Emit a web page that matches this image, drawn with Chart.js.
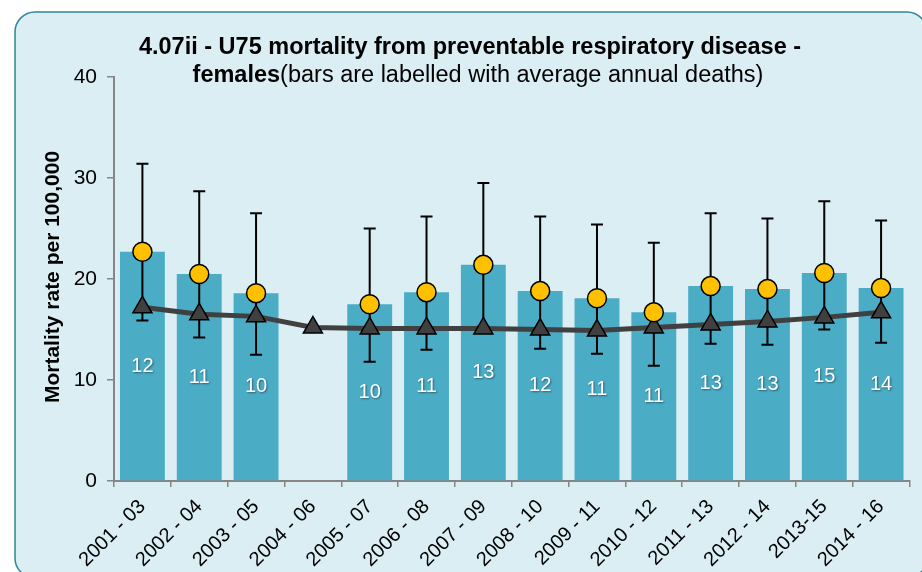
<!DOCTYPE html>
<html>
<head>
<meta charset="utf-8">
<script src="https://cdn.jsdelivr.net/npm/chart.js@4/dist/chart.umd.min.js"></script>
<style>
  html, body { margin: 0; padding: 0; background: #ffffff; }
  #wrap { width: 922px; height: 572px; position: relative; }
</style>
</head>
<body>
<div id="wrap"><canvas id="mortalityChart" width="922" height="572"></canvas></div>
<script>
// Periods along the x axis
const periods = ['2001 - 03', '2002 - 04', '2003 - 05', '2004 - 06', '2005 - 07', '2006 - 08',
    '2007 - 09', '2008 - 10', '2009 - 11', '2010 - 12', '2011 - 13', '2012 - 14', '2013-15', '2014 - 16'];

// Local U75 mortality rate per 100,000 (bars and yellow markers)
const localRate = [22.7, 20.5, 18.6, null, 17.5, 18.7, 21.4, 18.8, 18.1, 16.7, 19.3, 19.0, 20.6, 19.1];
// 95% confidence limits
const upperCI = [31.4, 28.7, 26.5, null, 25.0, 26.2, 29.5, 26.2, 25.4, 23.6, 26.5, 26.0, 27.7, 25.8];
const lowerCI = [15.9, 14.2, 12.5, null, 11.8, 13.0, 15.3, 13.1, 12.6, 11.4, 13.6, 13.5, 15.0, 13.7];
// Comparator rate (triangles)
const comparatorRate = [17.2, 16.5, 16.3, 15.2, 15.1, 15.1, 15.1, 15.0, 14.9, 15.2, 15.5, 15.8, 16.2, 16.7];
// Average annual deaths written on each bar
const annualDeaths = [12, 11, 10, null, 10, 11, 13, 12, 11, 11, 13, 13, 15, 14];

const yTicks = [0, 10, 20, 30, 40];

const FONT = '"Liberation Sans", Arial, sans-serif';
const AXIS_GREY = '#868686';

// Rounded panel behind everything
const panelPlugin = {
    id: 'panel',
    beforeDraw(chart) {
        const ctx = chart.ctx;
        ctx.save();
        ctx.fillStyle = '#ffffff';
        ctx.fillRect(0, 0, chart.width, chart.height);
        ctx.beginPath();
        ctx.roundRect(15, 12, 912, 566, 20);
        ctx.fillStyle = '#daeef3';
        ctx.fill();
        ctx.lineWidth = 1.5;
        ctx.strokeStyle = '#31859c';
        ctx.stroke();
        ctx.restore();
    }
};

// Two-line title with mixed weights, plus the rotated y axis title
const titlePlugin = {
    id: 'mixedTitle',
    afterDraw(chart) {
        const ctx = chart.ctx;
        const size = 23.5;
        ctx.save();
        ctx.fillStyle = '#000';
        ctx.textBaseline = 'middle';
        ctx.textAlign = 'center';
        ctx.font = 'bold ' + size + 'px ' + FONT;
        ctx.fillText('4.07ii - U75 mortality from preventable respiratory disease -', 470, 48);

        const boldPart = 'females';
        const plainPart = '(bars are labelled with average annual deaths)';
        ctx.font = 'bold ' + size + 'px ' + FONT;
        const wBold = ctx.measureText(boldPart).width;
        ctx.font = size + 'px ' + FONT;
        const wPlain = ctx.measureText(plainPart).width;
        const x = 478 - (wBold + wPlain) / 2;
        ctx.textAlign = 'left';
        ctx.font = 'bold ' + size + 'px ' + FONT;
        ctx.fillText(boldPart, x, 76);
        ctx.font = size + 'px ' + FONT;
        ctx.fillText(plainPart, x + wBold, 76);

        ctx.translate(53, 277);
        ctx.rotate(-Math.PI / 2);
        ctx.textAlign = 'center';
        ctx.font = 'bold 21px ' + FONT;
        ctx.fillText('Mortality rate per 100,000', 0, 0);
        ctx.restore();
    }
};

// Confidence interval whiskers, drawn over the bars
const errorBarPlugin = {
    id: 'errorBars',
    afterDatasetDraw(chart, args) {
        if (args.index !== 0) return;
        const ctx = chart.ctx;
        const xs = chart.scales.x;
        const ys = chart.scales.y;
        ctx.save();
        ctx.strokeStyle = '#000';
        ctx.lineWidth = 2;
        periods.forEach((p, i) => {
            if (upperCI[i] == null) return;
            const x = xs.getPixelForValue(i);
            const yTop = ys.getPixelForValue(upperCI[i]);
            const yBot = ys.getPixelForValue(lowerCI[i]);
            ctx.beginPath();
            ctx.moveTo(x, yTop);
            ctx.lineTo(x, yBot);
            ctx.moveTo(x - 6, yTop);
            ctx.lineTo(x + 6, yTop);
            ctx.moveTo(x - 6, yBot);
            ctx.lineTo(x + 6, yBot);
            ctx.stroke();
        });
        ctx.restore();
    }
};

// White death counts in the middle of each bar
const barLabelPlugin = {
    id: 'barLabels',
    afterDatasetsDraw(chart) {
        const ctx = chart.ctx;
        const meta = chart.getDatasetMeta(0);
        ctx.save();
        ctx.font = '20px ' + FONT;
        ctx.fillStyle = '#ffffff';
        ctx.textAlign = 'center';
        ctx.textBaseline = 'middle';
        ctx.shadowColor = 'rgba(0,0,0,0.45)';
        ctx.shadowOffsetX = 1;
        ctx.shadowOffsetY = 1;
        ctx.shadowBlur = 2;
        meta.data.forEach((bar, i) => {
            if (annualDeaths[i] == null) return;
            const mid = (bar.y + bar.base) / 2;
            ctx.fillText(String(annualDeaths[i]), bar.x, mid);
        });
        ctx.restore();
    }
};

const ctx = document.getElementById('mortalityChart').getContext('2d');

new Chart(ctx, {
    type: 'bar',
    data: {
        labels: periods,
        datasets: [
            {
                type: 'bar',
                label: 'Rate',
                data: localRate,
                backgroundColor: '#4bacc6',
                barPercentage: 0.79,
                categoryPercentage: 1,
                order: 3
            },
            {
                type: 'line',
                label: 'Comparator',
                data: comparatorRate,
                borderColor: '#404040',
                borderWidth: 5,
                pointStyle: 'triangle',
                pointRadius: 11,
                pointBackgroundColor: '#404040',
                pointBorderColor: '#000',
                pointBorderWidth: 1.5,
                tension: 0,
                order: 2
            },
            {
                type: 'line',
                label: 'Rate marker',
                data: localRate,
                showLine: false,
                pointStyle: 'circle',
                pointRadius: 9.5,
                pointBackgroundColor: '#ffc000',
                pointBorderColor: '#000',
                pointBorderWidth: 1.5,
                order: 1
            }
        ]
    },
    options: {
        responsive: false,
        animation: false,
        layout: { padding: { left: 0, right: 12, top: 77, bottom: 0 } },
        plugins: {
            legend: { display: false },
            title: { display: false },
            tooltip: { enabled: false }
        },
        scales: {
            x: {
                offset: true,
                grid: {
                    display: true,
                    offset: true,
                    drawOnChartArea: false,
                    drawTicks: true,
                    tickLength: 6,
                    color: AXIS_GREY,
                    lineWidth: 1.5
                },
                border: { display: true, color: AXIS_GREY, width: 2 },
                ticks: {
                    color: '#000',
                    font: { family: FONT, size: 20 },
                    minRotation: 45,
                    maxRotation: 45,
                    autoSkip: false,
                    padding: 8
                },
                afterFit(scale) { scale.height = 91; }
            },
            y: {
                min: 0,
                max: 40,
                afterBuildTicks(scale) { scale.ticks = yTicks.map(v => ({ value: v })); },
                grid: {
                    display: true,
                    drawOnChartArea: false,
                    drawTicks: true,
                    tickLength: 7,
                    color: AXIS_GREY,
                    lineWidth: 1.5
                },
                border: { display: true, color: AXIS_GREY, width: 2 },
                ticks: {
                    color: '#000',
                    font: { family: FONT, size: 21 },
                    padding: 10
                },
                afterFit(scale) { scale.width = 114; }
            }
        }
    },
    plugins: [panelPlugin, errorBarPlugin, barLabelPlugin, titlePlugin]
});
</script>
</body>
</html>
